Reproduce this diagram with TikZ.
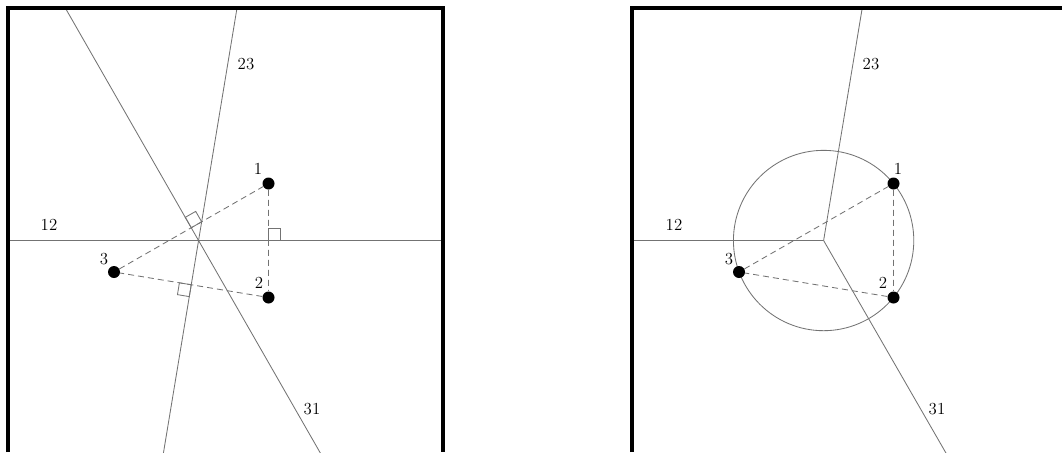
\documentclass[tikz,border=0pt]{standalone}
\usetikzlibrary{calc,through,backgrounds}

\begin{document}
\begin{tikzpicture}[x=0.25mm, y=-0.25mm,
  dot/.style={circle, fill, inner sep=0pt, minimum size=3mm},
  lbl/.style={inner sep=0pt, font=\fontsize{12}{14}\selectfont},
  bisector/.style={black!55, line width=0.6pt},
  link/.style={bisector, dash pattern=on 1.5mm off 1mm},
  frame/.style={line width=1mm}]
\useasboundingbox (0,0) rectangle (1062,452);

% 1. Left panel: the three bisectors
\begin{scope}
\clip (8,8) rectangle (443,452);
\node[dot] (a1) at (268.5,183.5) {};
\node[dot] (a2) at (268.5,297.5) {};
\node[dot] (a3) at (114,272) {};
\coordinate (am12) at ($(a1)!.5!(a2)$);
\coordinate (am13) at ($(a1)!.5!(a3)$);
\coordinate (am23) at ($(a2)!.5!(a3)$);
\coordinate (ac) at (intersection of am12--{$(am12)!1!90:(a1)$} and am13--{$(am13)!1!90:(a1)$});

% 1.1. lines through the centre
\foreach \pair in {12,13,23}
  \draw[bisector] ($(ac)!150mm!(am\pair)$) -- ($(ac)!-150mm!(am\pair)$);

% 1.2. dashed sides
\draw[link] (a1) -- (a2) (a2) -- (a3) (a3) -- (a1);

% 1.3. right angles
\foreach \pair/\tip in {12/1, 13/1, 23/3}{
  \coordinate (u) at ($(am\pair)!3mm!(a\tip)$);
  \coordinate (w) at ($(am\pair)!-3mm!(ac)$);
  \draw[bisector] (am\pair) -- (u) -- ($(u)+(w)-(am\pair)$) -- (w) -- cycle;
}
\end{scope}

\node[lbl] (at1) at (258,169) {1};
\node[lbl] (at2) at (259,283) {2};
\node[lbl] (at3) at (104,259) {3};
\node[lbl] (al12) at (49,225) {12};
\node[lbl] (al23) at (246,64) {23};
\node[lbl] (al31) at (312,409) {31};
\draw[frame] (8,452) -- (8,8) -- (443,8) -- (443,452);

% 2. Right panel: the three rays and the circle
\begin{scope}
\clip (632,8) rectangle (1062,452);
\node[dot] (b1) at (893.5,183.5) {};
\node[dot] (b2) at (893.5,297.5) {};
\node[dot] (b3) at (739,272) {};
\coordinate (bm12) at ($(b1)!.5!(b2)$);
\coordinate (bm13) at ($(b1)!.5!(b3)$);
\coordinate (bm23) at ($(b2)!.5!(b3)$);
\coordinate (bc) at (intersection of bm12--{$(bm12)!1!90:(b1)$} and bm13--{$(bm13)!1!90:(b1)$});

% 2.1. rays away from the sides
\foreach \pair in {12,13,23}
  \draw[bisector] (bc) -- ($(bc)!-150mm!(bm\pair)$);

% 2.2. dashed sides and circle (behind the dots)
\draw[link] (b1) -- (b2) (b2) -- (b3) (b3) -- (b1);
\begin{scope}[on background layer]
\node[bisector, draw, circle through=(b1)] (ring) at (bc) {};
\end{scope}
\end{scope}

\node[lbl] (bt1) at (898,169) {1};
\node[lbl] (bt2) at (883,283) {2};
\node[lbl] (bt3) at (729,259) {3};
\node[lbl] (bl12) at (674,225) {12};
\node[lbl] (bl23) at (871,64) {23};
\node[lbl] (bl31) at (937,409) {31};
\draw[frame] (632,452) -- (632,8) -- (1062,8);
\end{tikzpicture}
\end{document}
